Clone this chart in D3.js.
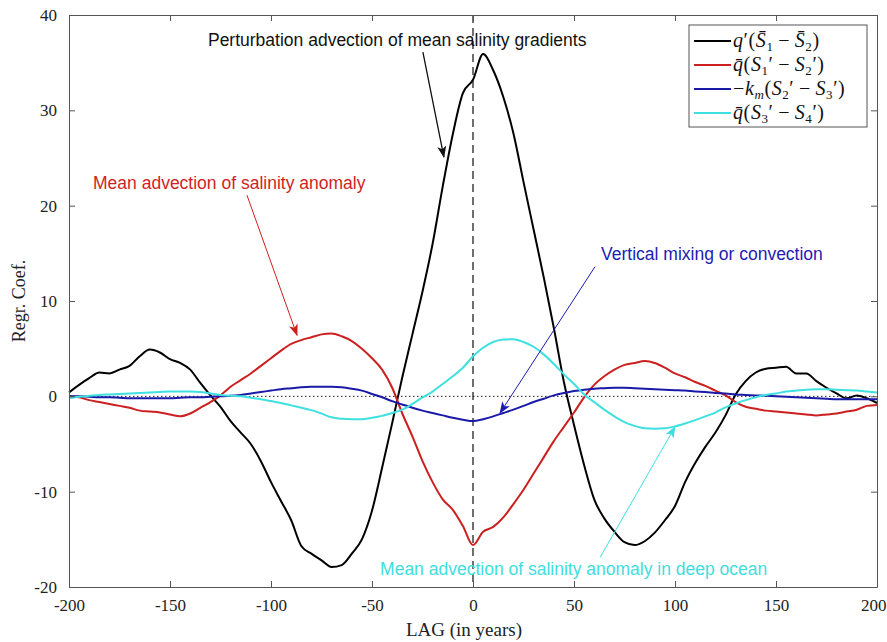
<!DOCTYPE html>
<html>
<head>
<meta charset="utf-8">
<script src="https://cdn.jsdelivr.net/npm/d3@7"></script>
<style>
  html, body { margin: 0; padding: 0; background: #fff; }
  svg { display: block; }
</style>
</head>
<body>
<div id="chart"></div>
<script>
// lag axis, every 5 years from -200 to 200
var lags = d3.range(-200, 201, 5);

// q'(S1bar - S2bar), perturbation advection of mean salinity gradients
var blackValues = [
  0.4, 1.2, 1.9, 2.5, 2.4, 2.8, 3.2, 4.2, 4.9, 4.6,
  3.9, 3.5, 2.8, 1.4, 0.1, -1.1, -2.6, -3.8, -5.0, -6.8,
  -9.0, -11.0, -13.0, -15.7, -16.5, -17.2, -17.9, -17.7, -16.5, -15.0,
  -12.0, -7.5, -2.8, 2.0, 6.5, 11.0, 16.0, 22.0, 27.5, 31.8,
  33.2, 35.9, 34.2, 31.4, 27.6, 22.5, 17.5, 12.5, 7.2, 1.5,
  -3.0, -7.2, -10.8, -12.8, -14.2, -15.3, -15.6, -15.2, -14.3, -13.0,
  -11.5, -9.0, -7.0, -5.3, -3.8, -2.0, 0.2, 1.6, 2.5, 2.9,
  3.0, 3.1, 2.4, 2.4, 1.6, 0.9, 0.3, -0.2, 0.1, -0.2,
  -0.7
];

// qbar(S1' - S2'), mean advection of salinity anomaly
var redValues = [
  0.0, -0.1, -0.4, -0.6, -0.8, -1.0, -1.2, -1.5, -1.6, -1.7,
  -1.9, -2.1, -1.8, -1.2, -0.6, 0.1, 1.0, 1.7, 2.4, 3.2,
  4.0, 4.8, 5.5, 5.9, 6.2, 6.5, 6.6, 6.3, 5.8, 5.0,
  4.0, 2.8, 0.9, -1.8, -4.2, -6.8, -9.0, -10.8, -11.9, -13.6,
  -15.6, -14.2, -13.7, -12.7, -11.3, -9.8, -8.1, -6.4, -4.7, -3.2,
  -1.7, -0.1, 1.2, 2.1, 2.8, 3.3, 3.5, 3.7, 3.5, 3.0,
  2.4, 2.0, 1.5, 1.1, 0.6, 0.1, -0.6, -1.1, -1.3, -1.5,
  -1.6, -1.7, -1.8, -1.9, -2.0, -1.9, -1.8, -1.6, -1.4, -1.0,
  -0.9
];

// -k_m(S2' - S3'), vertical mixing or convection
var blueValues = [
  0.0, 0.0, -0.05, -0.1, -0.1, -0.15, -0.2, -0.2, -0.2, -0.2,
  -0.2, -0.15, -0.1, -0.1, -0.05, 0.0, 0.05, 0.15, 0.3, 0.45,
  0.6, 0.75, 0.85, 0.95, 1.0, 1.0, 1.0, 0.95, 0.8, 0.6,
  0.25, -0.1, -0.5, -0.85, -1.2, -1.5, -1.75, -2.0, -2.25, -2.45,
  -2.6, -2.4, -2.1, -1.75, -1.4, -1.0, -0.6, -0.25, 0.1, 0.35,
  0.55, 0.7, 0.8, 0.85, 0.9, 0.9, 0.85, 0.8, 0.75, 0.7,
  0.65, 0.6, 0.5, 0.45, 0.35, 0.3, 0.2, 0.15, 0.1, 0.05,
  0.0, -0.05, -0.1, -0.15, -0.2, -0.25, -0.3, -0.3, -0.3, -0.3,
  -0.3
];

// qbar(S3' - S4'), mean advection of salinity anomaly in deep ocean
var cyanValues = [
  -0.2, -0.05, 0.05, 0.15, 0.2, 0.25, 0.3, 0.35, 0.4, 0.45,
  0.5, 0.5, 0.5, 0.45, 0.3, 0.15, 0.05, 0.0, -0.15, -0.3,
  -0.5, -0.7, -0.95, -1.2, -1.45, -1.8, -2.2, -2.35, -2.4, -2.4,
  -2.25, -2.05, -1.75, -1.4, -0.8, -0.1, 0.5, 1.3, 2.1, 3.0,
  4.2, 5.1, 5.7, 5.95, 6.0, 5.7, 5.2, 4.4, 3.4, 2.3,
  1.3, 0.2, -0.6, -1.4, -2.1, -2.7, -3.1, -3.35, -3.4, -3.35,
  -3.15, -2.85, -2.5, -2.1, -1.7, -1.15, -0.75, -0.4, -0.1, 0.15,
  0.3, 0.5, 0.6, 0.7, 0.75, 0.75, 0.7, 0.65, 0.6, 0.5,
  0.4
];

var xTicks = [-200, -150, -100, -50, 0, 50, 100, 150, 200];
var yTicks = [-20, -10, 0, 10, 20, 30, 40];

var seriesNames = ["black", "red", "blue", "cyan"];
var seriesColors = ["#000000", "#cc1f1f", "#1a1aa8", "#3fe0e0"];

// annotation texts and arrows, in data units (lag, coef)
var noteTexts = [
  "Perturbation advection of mean salinity gradients",
  "Mean advection of salinity anomaly",
  "Vertical mixing or convection",
  "Mean advection of salinity anomaly in deep ocean"
];
var noteColors = ["#111111", "#d01f1f", "#1c1cb4", "#3fdede"];
var noteAt = [[-131.2, 36.7], [-188.1, 21.7], [63.4, 14.3], [-46.0, -18.75]];
var arrowFrom = [[-24.8, 36.1], [-111.9, 21.1], [60.4, 13.6], [62.9, -16.9]];
var arrowTo = [[-14.4, 25.1], [-87.1, 6.4], [13.4, -1.75], [100.0, -3.2]];

var width = 887, height = 642;
var margin = {top: 15, right: 10, bottom: 55, left: 69};
var innerW = width - margin.left - margin.right;
var innerH = height - margin.top - margin.bottom;

var svg = d3.select("#chart").append("svg")
    .attr("width", width)
    .attr("height", height);

var x = d3.scaleLinear().domain([-200, 200]).range([0, innerW]);
var y = d3.scaleLinear().domain([-20, 40]).range([innerH, 0]);

var g = svg.append("g")
    .attr("transform", "translate(" + margin.left + "," + margin.top + ")");

var serif = "'Liberation Serif', 'Times New Roman', serif";
var sans = "'Liberation Sans', Arial, sans-serif";

// arrow heads, one per colour
var defs = svg.append("defs");
noteColors.forEach(function(c, i) {
    defs.append("marker")
        .attr("id", "head" + i)
        .attr("viewBox", "0 -5 12 10")
        .attr("refX", 11)
        .attr("refY", 0)
        .attr("markerUnits", "userSpaceOnUse")
        .attr("markerWidth", 12)
        .attr("markerHeight", 10)
        .attr("orient", "auto")
        .append("path")
        .attr("d", "M0,-4.5L12,0L0,4.5L3,0Z")
        .attr("fill", c);
});

// reference lines
g.append("line")
    .attr("x1", 0).attr("x2", innerW)
    .attr("y1", y(0)).attr("y2", y(0))
    .attr("stroke", "#222")
    .attr("stroke-width", 1)
    .attr("stroke-dasharray", "1.5,2.5");

g.append("line")
    .attr("x1", x(0)).attr("x2", x(0))
    .attr("y1", 0).attr("y2", innerH)
    .attr("stroke", "#222")
    .attr("stroke-width", 1.3)
    .attr("stroke-dasharray", "8,5");

// curves
var allValues = [blackValues, redValues, blueValues, cyanValues];
var line = d3.line()
    .x(function(d) { return x(d[0]); })
    .y(function(d) { return y(d[1]); })
    .curve(d3.curveMonotoneX);

allValues.forEach(function(vals, i) {
    var pts = lags.map(function(l, k) { return [l, vals[k]]; });
    g.append("path")
        .attr("class", "series-" + seriesNames[i])
        .attr("d", line(pts))
        .attr("fill", "none")
        .attr("stroke", seriesColors[i])
        .attr("stroke-width", 2)
        .attr("stroke-linejoin", "round");
});

// axes, matlab style: box with inward ticks on all sides
function styleAxis(sel) {
    sel.select(".domain").attr("stroke", "#555").attr("stroke-width", 1);
    sel.selectAll(".tick line").attr("stroke", "#555");
    sel.selectAll("text")
        .attr("font-family", serif)
        .attr("font-size", "17px")
        .attr("fill", "#222");
}

var fmt = function(d) { return String(d); };

var xAxisG = g.append("g")
    .attr("transform", "translate(0," + innerH + ")")
    .call(d3.axisBottom(x).tickValues(xTicks).tickFormat(fmt).tickSizeInner(-6).tickSizeOuter(0).tickPadding(12))
    .call(styleAxis);

// last label sits on the page edge, keep it inside
xAxisG.selectAll(".tick text")
    .filter(function(d) { return d == 200; })
    .attr("text-anchor", "end")
    .attr("x", 9);

g.append("g")
    .call(d3.axisTop(x).tickValues(xTicks).tickFormat("").tickSizeInner(-6).tickSizeOuter(0))
    .call(styleAxis);

g.append("g")
    .call(d3.axisLeft(y).tickValues(yTicks).tickFormat(fmt).tickSizeInner(-6).tickSizeOuter(0).tickPadding(12))
    .call(styleAxis);

g.append("g")
    .attr("transform", "translate(" + innerW + ",0)")
    .call(d3.axisRight(y).tickValues(yTicks).tickFormat("").tickSizeInner(-6).tickSizeOuter(0))
    .call(styleAxis);

// axis titles
svg.append("text")
    .attr("x", 464)
    .attr("y", 636)
    .attr("text-anchor", "middle")
    .attr("font-family", serif)
    .attr("font-size", "19px")
    .attr("fill", "#222")
    .text("LAG (in years)");

svg.append("text")
    .attr("transform", "translate(25," + (margin.top + innerH / 2) + ") rotate(-90)")
    .attr("text-anchor", "middle")
    .attr("font-family", serif)
    .attr("font-size", "18px")
    .attr("fill", "#222")
    .text("Regr. Coef.");

// annotations
noteTexts.forEach(function(t, i) {
    g.append("text")
        .attr("x", x(noteAt[i][0]))
        .attr("y", y(noteAt[i][1]))
        .attr("font-family", sans)
        .attr("font-size", "17.5px")
        .attr("fill", noteColors[i])
        .text(t);

    g.append("line")
        .attr("x1", x(arrowFrom[i][0]))
        .attr("y1", y(arrowFrom[i][1]))
        .attr("x2", x(arrowTo[i][0]))
        .attr("y2", y(arrowTo[i][1]))
        .attr("stroke", noteColors[i])
        .attr("stroke-width", i == 0 ? 1.3 : 1)
        .attr("marker-end", "url(#head" + i + ")");
});

// legend
var minus = "\u2009\u2212\u2009";
var legendLabels = [
    [["q", "i"], ["\u2032(", ""], ["S\u0304", "i"], ["1", "sub"], [minus, ""], ["S\u0304", "i"], ["2", "sub"], [")", ""]],
    [["q\u0304", "i"], ["(", ""], ["S", "i"], ["1", "sub"], ["\u2032" + minus, ""], ["S", "i"], ["2", "sub"], ["\u2032)", ""]],
    [["\u2212", ""], ["k", "i"], ["m", "subi"], ["(", ""], ["S", "i"], ["2", "sub"], ["\u2032" + minus, ""], ["S", "i"], ["3", "sub"], ["\u2032)", ""]],
    [["q\u0304", "i"], ["(", ""], ["S", "i"], ["3", "sub"], ["\u2032" + minus, ""], ["S", "i"], ["4", "sub"], ["\u2032)", ""]]
];

var legend = svg.append("g").attr("transform", "translate(689,25)");
legend.append("rect")
    .attr("width", 178)
    .attr("height", 102)
    .attr("fill", "#fff")
    .attr("stroke", "#555")
    .attr("stroke-width", 1);

legendLabels.forEach(function(parts, i) {
    var ry = 16 + i * 24;
    legend.append("line")
        .attr("x1", 5).attr("x2", 42)
        .attr("y1", ry).attr("y2", ry)
        .attr("stroke", seriesColors[i])
        .attr("stroke-width", 2);

    var txt = legend.append("text")
        .attr("x", 44)
        .attr("y", ry + 6)
        .attr("font-family", serif)
        .attr("font-size", "20px")
        .attr("letter-spacing", "0.6px")
        .attr("fill", "#111");

    var shifted = false;
    parts.forEach(function(p) {
        var ts = txt.append("tspan").text(p[0]);
        if (p[1] == "i" || p[1] == "subi") ts.attr("font-style", "italic");
        if (p[1] == "sub" || p[1] == "subi") {
            ts.attr("font-size", "13px").attr("dy", 4);
            shifted = true;
        } else if (shifted) {
            ts.attr("dy", -4);
            shifted = false;
        }
    });
});
</script>
</body>
</html>
